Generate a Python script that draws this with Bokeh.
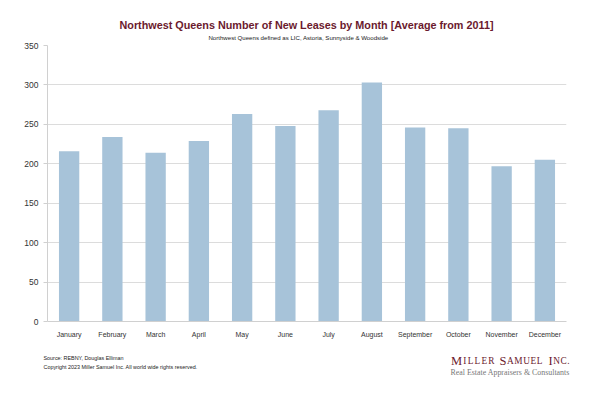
from bokeh.plotting import figure
from bokeh.layouts import column
from bokeh.models import FixedTicker, ColumnDataSource
from bokeh.core.properties import value
from bokeh.embed import file_html
from bokeh.resources import INLINE

months = ["January", "February", "March", "April", "May", "June", "July",
          "August", "September", "October", "November", "December"]
leases = [216, 234, 214, 229, 263, 248, 268, 303, 246, 245, 197, 205]
y_ticks = [0, 50, 100, 150, 200, 250, 300, 350]

title_text = "Northwest Queens Number of New Leases by Month [Average from 2011]"
subtitle_text = "Northwest Queens defined as LIC, Astoria, Sunnyside & Woodside"
source_text = "Source: REBNY, Douglas Elliman"
copyright_text = "Copyright 2023 Miller Samuel Inc.  All world wide rights reserved."
logo_words = ["MILLER", "SAMUEL", "INC."]
tagline_text = "Real Estate Appraisers & Consultants"

W = 600
HEAD_H, MAIN_H, FOOT_H = 41, 299, 57


def blank(h):
    f = figure(width=W, height=h, x_range=(0, W), y_range=(h, 0),
               output_backend="svg", toolbar_location=None,
               min_border=0, min_border_left=0, min_border_right=0,
               min_border_top=0, min_border_bottom=0)
    f.axis.visible = False
    f.grid.visible = False
    f.outline_line_color = None
    f.background_fill_color = "white"
    f.border_fill_color = "white"
    return f


def txt(f, x, y, t, size, color="#222222", font="Liberation Sans",
        style="normal", align="left", baseline="alphabetic"):
    f.text(x=[x], y=[y], text=[t], text_font=value(font),
           text_font_size=value(size), text_color=color,
           text_font_style=style, text_align=align, text_baseline=baseline)


# header
head = blank(HEAD_H)
txt(head, 306, 24.8, title_text, "10.8px", color="#6b1a2e", style="bold",
    align="center")
txt(head, 298, 37.3, subtitle_text, "6.1px", align="center")

# main chart
src = ColumnDataSource(dict(month=months, leases=leases))
p = figure(width=W, height=MAIN_H, x_range=months, y_range=(0, 350),
           output_backend="svg", toolbar_location=None,
           min_border_left=47, min_border_right=34,
           min_border_top=4, min_border_bottom=18)
p.title.visible = False
p.outline_line_color = None
p.background_fill_color = "white"
p.border_fill_color = "white"

p.vbar(x="month", top="leases", width=0.47, source=src,
       fill_color="#a7c3d9", line_color=None)

p.yaxis.ticker = FixedTicker(ticks=y_ticks)
p.yaxis.minor_tick_line_color = None
p.yaxis.axis_line_color = "#d0d0d0"
p.yaxis.major_tick_line_color = "#d0d0d0"
p.yaxis.major_tick_out = 4
p.yaxis.major_tick_in = 0
p.yaxis.major_label_text_font = "Liberation Sans"
p.yaxis.major_label_text_font_size = "8.5px"
p.yaxis.major_label_text_color = "#333333"
p.yaxis.major_label_standoff = 5

p.xaxis.axis_line_color = "#d0d0d0"
p.xaxis.major_tick_line_color = None
p.xaxis.major_label_text_font = "Liberation Sans"
p.xaxis.major_label_text_font_size = "7px"
p.xaxis.major_label_text_color = "#333333"
p.xaxis.major_label_standoff = 3

p.xgrid.grid_line_color = None
p.ygrid.grid_line_color = "#dcdcdc"
p.ygrid.grid_line_width = 1

# footer
foot = blank(FOOT_H)
txt(foot, 43, 17.5, source_text, "5.4px")
txt(foot, 43, 26.2, copyright_text, "5.4px")

# small-caps logo, letter by letter (Times-like advance widths, em)
adv = {"M": 0.889, "I": 0.333, "L": 0.611, "E": 0.611, "R": 0.667,
       "S": 0.556, "A": 0.722, "U": 0.722, "N": 0.722, "C": 0.667, ".": 0.25}
big, small = 12.5, 9.3
starts = [450.5, 499, 548]
ends = [494, 542, 569]
for word, x0, x1 in zip(logo_words, starts, ends):
    sizes = [big] + [small] * (len(word) - 1)
    widths = [adv[c] * s for c, s in zip(word, sizes)]
    gap = (x1 - x0 - sum(widths)) / (len(word) - 1)
    x = x0
    for c, s, w in zip(word, sizes, widths):
        txt(foot, x, 20.3, c, f"{s}px", color="#6b1a2e",
            font="Liberation Serif")
        x += w + gap
txt(foot, 450, 32, tagline_text, "7.9px", color="#777777",
    font="Liberation Serif")

layout = column(column(head), p, column(foot), spacing=0)
open("out.html", "w").write(file_html(layout, INLINE))
